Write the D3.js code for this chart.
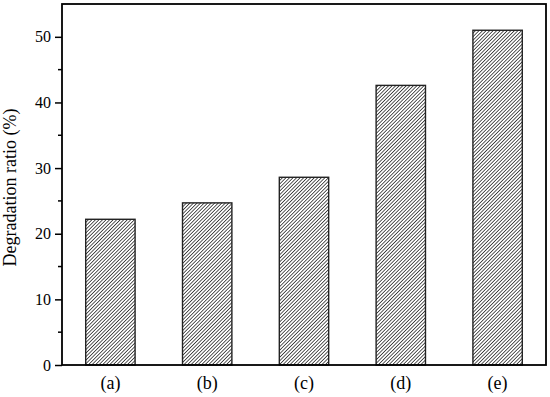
<!DOCTYPE html>
<html>
<head>
<meta charset="utf-8">
<script src="https://cdn.jsdelivr.net/npm/d3@7"></script>
<style>
  body { margin: 0; background: #fff; }
  svg { display: block; font-family: "Liberation Serif", "Times New Roman", serif; }
</style>
</head>
<body>
<svg id="chart" width="550" height="397"></svg>
<script>
// chart data
var categories = ['(a)', '(b)', '(c)', '(d)', '(e)'];
var ratios = [22.2, 24.7, 28.6, 42.6, 51.0];
var majorTicks = [0, 10, 20, 30, 40, 50];
var minorTicks = [5, 15, 25, 35, 45];

// plot box (window.top is read-only, so use other names)
var plotL = 62, plotR = 546, plotT = 4, plotB = 365;

var svg = d3.select('#chart');

// hatch pattern for the bars
var defs = svg.append('defs');
var pat = defs.append('pattern')
	.attr('id', 'hatch')
	.attr('patternUnits', 'userSpaceOnUse')
	.attr('width', 2.5)
	.attr('height', 2.5)
	.attr('patternTransform', 'rotate(45)');
pat.append('rect')
	.attr('width', 2.5).attr('height', 2.5)
	.attr('fill', '#fff');
pat.append('line')
	.attr('x1', 0).attr('y1', 0)
	.attr('x2', 0).attr('y2', 2.5)
	.attr('stroke', '#000')
	.attr('stroke-width', 1.3);

var x = d3.scaleBand()
	.domain(categories)
	.range([plotL, plotR])
	.paddingInner(0.49)
	.paddingOuter(0.245);

var y = d3.scaleLinear()
	.domain([0, 55])
	.range([plotB, plotT]);

// bars
svg.append('g')
	.selectAll('rect')
	.data(ratios)
	.enter()
	.append('rect')
	.attr('x', function(d, i) { return x(categories[i]); })
	.attr('y', function(d) { return y(d); })
	.attr('width', x.bandwidth())
	.attr('height', function(d) { return y(0) - y(d); })
	.attr('fill', 'url(#hatch)')
	.attr('stroke', '#222')
	.attr('stroke-width', 1.4);

// left axis with major and minor ticks
var yAxis = d3.axisLeft(y)
	.tickValues(majorTicks)
	.tickSize(7)
	.tickPadding(4)
	.tickSizeOuter(0);

var ag = svg.append('g')
	.attr('transform', 'translate(' + plotL + ',0)')
	.call(yAxis);
ag.select('.domain').remove();
ag.selectAll('.tick line').attr('stroke', '#000').attr('stroke-width', 1.5);
ag.selectAll('.tick text')
	.attr('font-family', '"Liberation Serif", serif')
	.attr('font-size', 16)
	.attr('fill', '#000');

svg.append('g')
	.selectAll('line')
	.data(minorTicks)
	.enter()
	.append('line')
	.attr('x1', plotL - 4).attr('x2', plotL)
	.attr('y1', function(d) { return y(d); })
	.attr('y2', function(d) { return y(d); })
	.attr('stroke', '#000')
	.attr('stroke-width', 1.5);

// bottom axis labels only
var xAxis = d3.axisBottom(x).tickSize(0).tickPadding(11);
var bg = svg.append('g')
	.attr('transform', 'translate(0,' + plotB + ')')
	.call(xAxis);
bg.select('.domain').remove();
bg.selectAll('.tick text')
	.attr('font-family', '"Liberation Serif", serif')
	.attr('font-size', 18)
	.attr('fill', '#000');

// frame
svg.append('rect')
	.attr('x', plotL)
	.attr('y', plotT)
	.attr('width', plotR - plotL)
	.attr('height', plotB - plotT)
	.attr('fill', 'none')
	.attr('stroke', '#000')
	.attr('stroke-width', 1.8);

// y label
svg.append('text')
	.attr('transform', 'translate(16,' + ((plotT + plotB) / 2 + 3) + ') rotate(-90)')
	.attr('text-anchor', 'middle')
	.attr('font-size', 18)
	.text('Degradation ratio (%)');
</script>
</body>
</html>
